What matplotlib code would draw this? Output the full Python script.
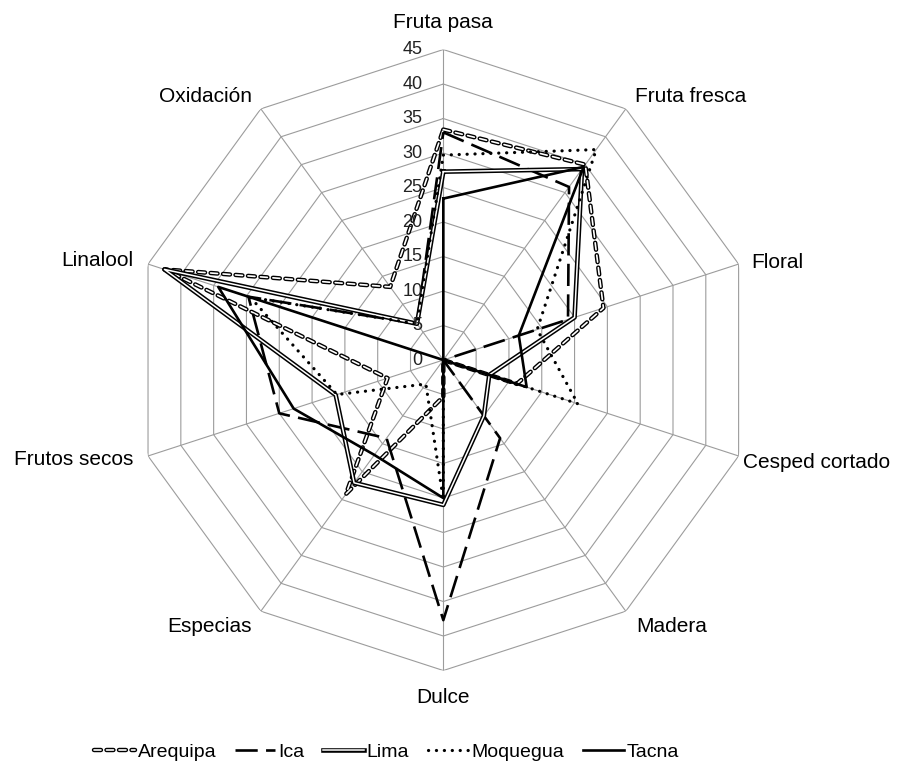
import numpy as np
import matplotlib
matplotlib.use('Agg')
import matplotlib.pyplot as plt
import matplotlib.patheffects as pe

plt.rcParams['font.family'] = ['Liberation Sans', 'DejaVu Sans']
plt.rcParams['lines.scale_dashes'] = False

categories = ['Fruta pasa', 'Fruta fresca', 'Floral', 'Cesped cortado', 'Madera',
              'Dulce', 'Especias', 'Frutos secos', 'Linalool', 'Oxidación']
arequipa = [33.4, 35.0, 24.4, 11.2, 0.0, 5.3, 24.0, 8.5, 42.5, 13.1]
ica = [33.0, 31.0, 19.0, 0.0, 14.0, 37.7, 14.0, 25.0, 29.7, 6.5]
lima = [27.3, 34.2, 20.0, 7.0, 10.0, 21.0, 22.0, 16.4, 42.5, 6.5]
moquegua = [29.7, 37.7, 14.3, 20.5, 0.0, 20.3, 4.3, 16.2, 29.4, 6.5]
tacna = [23.4, 34.6, 11.5, 12.7, 0.0, 20.0, 17.0, 22.8, 34.3, 0.0]
ticks = [0, 5, 10, 15, 20, 25, 30, 35, 40, 45]

# label offsets in pixels (dx, dy) and alignment, one per category
label_pos = [(0, 27, 'center'), (9, 12, 'left'), (13, 2, 'left'), (4, -7, 'left'),
             (10, -15, 'left'), (0, -27, 'center'), (-9, -15, 'right'),
             (-15, -4, 'right'), (-15, 4, 'right'), (-9, 12, 'right')]

fig = plt.figure(figsize=(9.09, 7.74), dpi=100)
ax = fig.add_axes([0.1461, 0.1337, 0.6832, 0.8023], projection='polar')
ax.set_theta_zero_location('N')
ax.set_theta_direction(-1)
ax.set_ylim(0, ticks[-1])
ax.grid(False)
ax.set_xticks([])
ax.set_yticks([])
ax.spines['polar'].set_visible(False)

angles = np.linspace(0, 2 * np.pi, len(categories), endpoint=False)
ring = np.append(angles, angles[0])

grid_col = '#9c9c9c'
for r in ticks[1:]:
    ax.plot(ring, [r] * len(ring), color=grid_col, lw=0.8, zorder=1)
for a in angles:
    ax.plot([a, a], [0, ticks[-1]], color=grid_col, lw=0.8, zorder=1)


def closed(v):
    return list(v) + [v[0]]


ax.plot(ring, closed(arequipa), color='white', lw=1.2, dashes=(5, 4),
        dash_capstyle='round',
        path_effects=[pe.Stroke(linewidth=3.2, foreground='black'), pe.Normal()],
        label='Arequipa', zorder=3)
ax.plot(ring, closed(ica), color='black', lw=1.9, dashes=(16, 6),
        label='Ica', zorder=3)
ax.plot(ring, closed(lima), color='white', lw=1.1,
        path_effects=[pe.Stroke(linewidth=3.3, foreground='black'), pe.Normal()],
        label='Lima', zorder=3)
ax.plot(ring, closed(moquegua), color='black', lw=2.3, dashes=(0.1, 5.6),
        dash_capstyle='round', label='Moquegua', zorder=3)
ax.plot(ring, closed(tacna), color='black', lw=1.9, label='Tacna', zorder=4)

for r in ticks:
    ax.annotate(str(r), xy=(0, r), xytext=(-21, 0), textcoords='offset pixels',
                ha='right', va='center', fontsize=13, color='#222222')

for a, name, (dx, dy, ha) in zip(angles, categories, label_pos):
    ax.annotate(name, xy=(a, ticks[-1]), xytext=(dx, dy), textcoords='offset pixels',
                ha=ha, va='center', fontsize=15, color='black', annotation_clip=False)

fig.legend(loc='center', bbox_to_anchor=(0.425, 1 - 752 / 774), ncol=5,
           frameon=False, fontsize=14, handlelength=2.1, handletextpad=0.15,
           columnspacing=0.95)

fig.savefig('out.png', dpi=100, facecolor='white')
